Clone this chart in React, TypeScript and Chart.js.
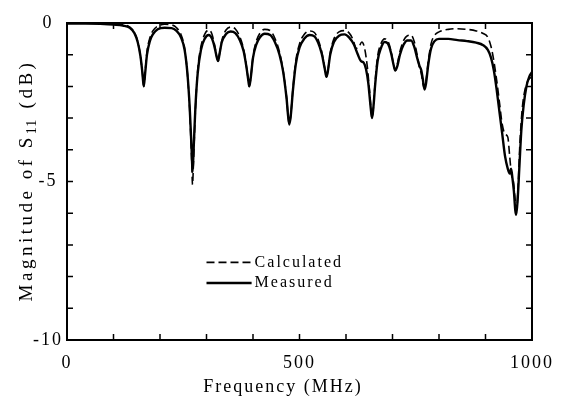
import React, { useEffect, useRef } from "react";
import { Chart, registerables } from "chart.js";

Chart.register(...registerables);

// ---- data (frequency in MHz, magnitude in dB) ----
const measuredFreq = [
  0, 40, 80, 100, 120, 135, 145, 152, 158, 162, 165, 168, 172, 178, 185, 195, 210, 225, 235, 245,
  253, 259, 264, 268, 270, 272, 276, 281, 288, 296, 305, 312, 318, 322, 325, 328, 333, 342, 352, 362,
  372, 380, 386, 390, 392, 395, 400, 407, 415, 425, 437, 447, 457, 465, 472, 478, 481, 486, 492, 500,
  510, 522, 532, 540, 548, 554, 558, 561, 566, 574, 585, 597, 607, 617, 625, 632, 638, 643, 648, 652,
  656, 659, 663, 668, 675, 683, 690, 697, 702, 706, 710, 716, 724, 732, 740, 747, 753, 758, 762, 765,
  769, 772, 777, 783, 790, 800, 820, 840, 860, 880, 895, 905, 912, 918, 924, 930, 936, 942, 948, 952,
  955, 958, 961, 964, 966, 969, 973, 977, 982, 988, 994, 1000,
];
const measuredDb = [
  -0.02, -0.02, -0.03, -0.05, -0.08, -0.15, -0.32, -0.6, -1.05, -1.55, -2.0, -1.6, -1.0, -0.58, -0.35, -0.2, -0.15, -0.16, -0.24, -0.45,
  -0.85, -1.6, -2.7, -4.0, -4.7, -4.1, -2.7, -1.6, -0.85, -0.5, -0.38, -0.5, -0.8, -1.08, -1.2, -0.98, -0.6, -0.35, -0.27, -0.32,
  -0.55, -0.9, -1.4, -1.82, -2.0, -1.75, -1.1, -0.68, -0.45, -0.34, -0.38, -0.6, -1.0, -1.55, -2.35, -3.2, -2.95, -2.1, -1.3, -0.78,
  -0.5, -0.38, -0.42, -0.62, -0.98, -1.42, -1.7, -1.52, -1.0, -0.6, -0.4, -0.36, -0.46, -0.68, -0.98, -1.2, -1.25, -1.45, -1.9, -2.5,
  -3.0, -2.65, -1.9, -1.2, -0.8, -0.6, -0.65, -0.95, -1.3, -1.5, -1.38, -1.0, -0.68, -0.55, -0.55, -0.76, -1.1, -1.35, -1.5, -1.75,
  -2.1, -1.92, -1.3, -0.8, -0.58, -0.5, -0.5, -0.54, -0.57, -0.62, -0.7, -0.85, -1.1, -1.5, -2.1, -2.8, -3.5, -4.2, -4.6, -4.75,
  -4.6, -4.9, -5.3, -5.9, -6.05, -5.6, -4.5, -3.4, -2.6, -2.0, -1.7, -1.55,
];
const calculatedFreq = [
  0, 100, 120, 135, 145, 152, 158, 162, 165, 168, 172, 178, 185, 195, 210, 225, 235, 245, 253, 259,
  264, 268, 270, 272, 276, 281, 288, 296, 305, 312, 318, 322, 325, 328, 333, 342, 352, 362, 372, 380,
  386, 390, 392, 395, 400, 407, 415, 425, 437, 447, 457, 465, 472, 478, 481, 486, 492, 500, 510, 522,
  532, 540, 548, 554, 558, 561, 566, 574, 585, 597, 607, 615, 622, 628, 634, 640, 646, 651, 656, 659,
  663, 668, 675, 683, 690, 697, 702, 706, 710, 716, 724, 732, 740, 747, 753, 758, 762, 766, 769, 772,
  777, 783, 790, 800, 820, 840, 860, 880, 895, 905, 912, 918, 924, 930, 936, 942, 948, 952, 956, 960,
  964, 967, 970, 974, 979, 985, 992, 1000,
];
const calculatedDb = [
  0, -0.02, -0.05, -0.13, -0.3, -0.58, -1.05, -1.55, -2.0, -1.55, -0.9, -0.48, -0.24, -0.1, -0.04, -0.06, -0.14, -0.36, -0.8, -1.6,
  -2.8, -4.3, -5.1, -4.4, -2.8, -1.5, -0.75, -0.36, -0.22, -0.36, -0.74, -1.06, -1.2, -0.98, -0.55, -0.22, -0.13, -0.19, -0.45, -0.84,
  -1.38, -1.82, -2.0, -1.75, -1.05, -0.58, -0.32, -0.2, -0.24, -0.48, -0.92, -1.52, -2.32, -3.2, -2.95, -2.05, -1.2, -0.66, -0.36, -0.25,
  -0.3, -0.52, -0.92, -1.4, -1.7, -1.52, -0.95, -0.5, -0.28, -0.24, -0.32, -0.52, -0.8, -0.75, -0.6, -0.8, -1.4, -2.2, -3.0, -2.65,
  -1.8, -1.05, -0.66, -0.5, -0.57, -0.9, -1.3, -1.5, -1.32, -0.9, -0.55, -0.4, -0.38, -0.6, -1.0, -1.4, -1.6, -1.95, -2.05, -1.82,
  -1.2, -0.65, -0.4, -0.28, -0.2, -0.18, -0.2, -0.25, -0.33, -0.45, -0.75, -1.2, -1.8, -2.5, -3.2, -3.5, -3.6, -4.2, -4.8, -5.0,
  -5.6, -5.9, -5.2, -3.8, -2.7, -2.1, -1.8, -1.7,
];
const xTickLabels = [0, 500, 1000];
const yTickLabels = [0, -5, -10];
const seriesLabels = ["Calculated", "Measured"];
const xTitle = "Frequency (MHz)";
const yTitleParts = ["Magnitude of S", "11", " (dB)"];

const FONT = '"Liberation Serif", "Times New Roman", serif';

const spacingPlugin = {
  id: "spacing",
  beforeUpdate(chart: any) { chart.ctx.letterSpacing = "2px"; },
  beforeLayout(chart: any) { chart.ctx.letterSpacing = "2px"; },
  beforeDraw(chart: any) { chart.ctx.letterSpacing = "2px"; },
};

const framePlugin = {
  id: "frame",
  afterDatasetsDraw(chart: any) {
    const { ctx, chartArea: a, scales } = chart;
    ctx.save();
    ctx.strokeStyle = "#000";
    ctx.lineWidth = 2;
    ctx.strokeRect(a.left, a.top, a.right - a.left, a.bottom - a.top);
    ctx.lineWidth = 1.5;
    const len = 6;
    scales.x.ticks.forEach((t: any) => {
      const px = scales.x.getPixelForValue(t.value);
      ctx.beginPath();
      ctx.moveTo(px, a.bottom); ctx.lineTo(px, a.bottom - len);
      ctx.moveTo(px, a.top); ctx.lineTo(px, a.top + len);
      ctx.stroke();
    });
    scales.y.ticks.forEach((t: any) => {
      const py = scales.y.getPixelForValue(t.value);
      ctx.beginPath();
      ctx.moveTo(a.left, py); ctx.lineTo(a.left + len, py);
      ctx.moveTo(a.right, py); ctx.lineTo(a.right - len, py);
      ctx.stroke();
    });
    ctx.restore();
  },
};

const titlesPlugin = {
  id: "titles",
  afterDraw(chart: any) {
    const { ctx, chartArea: a, width, height } = chart;
    ctx.save();
    ctx.fillStyle = "#000";
    // x-axis title, centred on the figure
    ctx.letterSpacing = "2px";
    ctx.font = `18px ${FONT}`;
    ctx.textAlign = "center";
    ctx.textBaseline = "middle";
    ctx.fillText(xTitle, width / 2, height - 12);
    // y-axis title with subscript
    const mainFont = `19px ${FONT}`;
    const subFont = `14px ${FONT}`;
    ctx.letterSpacing = "3.5px";
    ctx.textAlign = "left";
    ctx.font = mainFont;
    const w0 = ctx.measureText(yTitleParts[0]).width;
    const w2 = ctx.measureText(yTitleParts[2]).width;
    ctx.letterSpacing = "1px";
    ctx.font = subFont;
    const w1 = ctx.measureText(yTitleParts[1]).width;
    const total = w0 + w1 + w2;
    ctx.translate(27, (a.top + a.bottom) / 2);
    ctx.rotate(-Math.PI / 2);
    let x = -total / 2;
    ctx.letterSpacing = "3.5px";
    ctx.font = mainFont;
    ctx.fillText(yTitleParts[0], x, 0);
    x += w0;
    ctx.letterSpacing = "1px";
    ctx.font = subFont;
    ctx.fillText(yTitleParts[1], x, 5);
    x += w1 + 2;
    ctx.letterSpacing = "3.5px";
    ctx.font = mainFont;
    ctx.fillText(yTitleParts[2], x, 0);
    ctx.restore();
  },
};

const legendPlugin = {
  id: "innerLegend",
  afterDraw(chart: any) {
    const { ctx, chartArea: a } = chart;
    const w = a.right - a.left;
    const h = a.bottom - a.top;
    const x0 = a.left + w * 0.30;
    const x1 = a.left + w * 0.397;
    const rows = [a.top + h * 0.755, a.top + h * 0.82];
    ctx.save();
    ctx.letterSpacing = "2px";
    ctx.font = `16px ${FONT}`;
    ctx.fillStyle = "#000";
    ctx.textBaseline = "middle";
    ctx.textAlign = "left";
    chart.data.datasets.forEach((ds: any, i: number) => {
      const y = rows[i];
      ctx.strokeStyle = "#000";
      ctx.lineWidth = ds.borderWidth;
      ctx.setLineDash(ds.borderDash || []);
      ctx.beginPath();
      ctx.moveTo(x0, y); ctx.lineTo(x1, y);
      ctx.stroke();
      ctx.setLineDash([]);
      ctx.fillText(ds.label, x1 + 3, y);
    });
    ctx.restore();
  },
};

export default function App() {
  const ref = useRef<HTMLCanvasElement | null>(null);
  useEffect(() => {
    if (!ref.current) return;
    const calc = calculatedFreq.map((f, i) => ({ x: f, y: calculatedDb[i] }));
    const meas = measuredFreq.map((f, i) => ({ x: f, y: measuredDb[i] }));
    const chart = new Chart(ref.current, {
      type: "line",
      data: {
        datasets: [
          { label: seriesLabels[0], data: calc, borderColor: "#000", borderWidth: 1.6, borderDash: [8, 4], pointRadius: 0, fill: false, cubicInterpolationMode: "monotone" },
          { label: seriesLabels[1], data: meas, borderColor: "#000", borderWidth: 2.4, pointRadius: 0, fill: false, cubicInterpolationMode: "monotone" },
        ],
      },
      options: {
        animation: false,
        responsive: true,
        maintainAspectRatio: false,
        layout: { padding: { left: 0, top: 23, right: 32, bottom: 0 } },
        plugins: { legend: { display: false }, tooltip: { enabled: false } },
        scales: {
          x: {
            type: "linear",
            min: 0,
            max: 1000,
            grid: { display: false, drawTicks: false },
            border: { display: false },
            ticks: {
              stepSize: 100,
              autoSkip: false,
              maxRotation: 0,
              padding: 12,
              color: "#000",
              font: { family: FONT, size: 18 },
              callback: (v: any) => (xTickLabels.includes(Number(v)) ? String(v) : ""),
            },
            title: { display: false },
            afterFit: (s: any) => { s.height = 59; },
          },
          y: {
            type: "linear",
            min: -10,
            max: 0,
            grid: { display: false, drawTicks: false },
            border: { display: false },
            ticks: {
              stepSize: 1,
              autoSkip: false,
              padding: 4,
              crossAlign: "center",
              color: "#000",
              font: { family: FONT, size: 18 },
              callback: (v: any) => (yTickLabels.includes(Number(v)) ? String(v) : ""),
            },
            title: { display: false },
            afterFit: (s: any) => { s.width = 67; },
          },
        },
      },
      plugins: [spacingPlugin, framePlugin, titlesPlugin, legendPlugin],
    } as any);
    return () => chart.destroy();
  }, []);
  return (
    <div style={{ position: "fixed", left: 0, top: 0, width: 566, height: 399, background: "#fff" }}>
      <canvas ref={ref} />
    </div>
  );
}
